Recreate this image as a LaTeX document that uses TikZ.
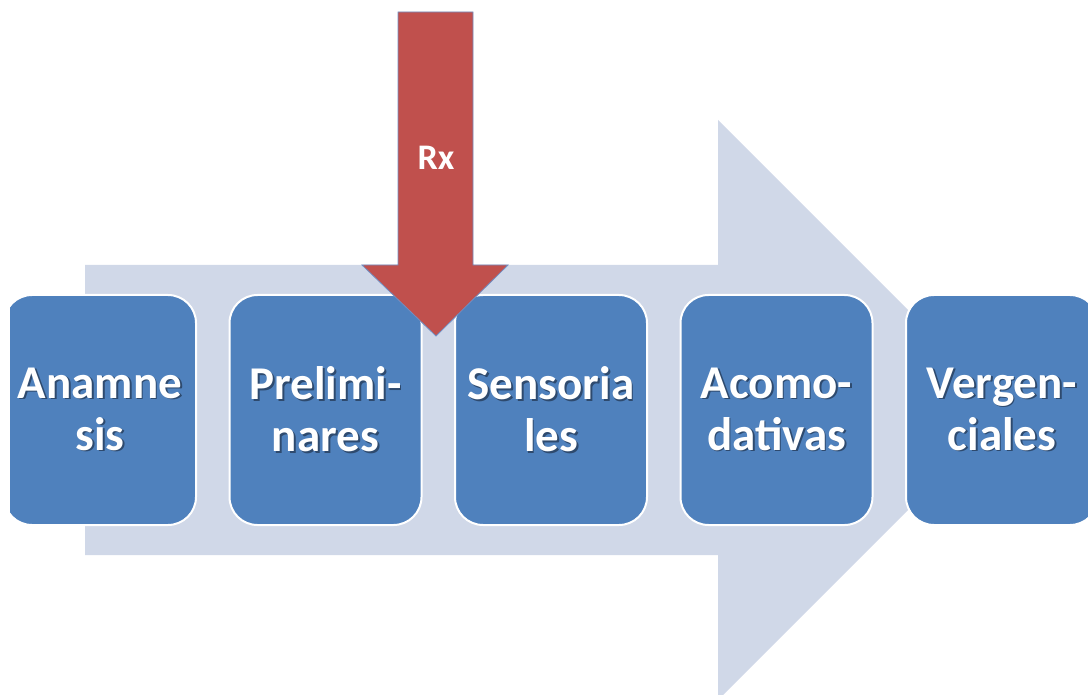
\documentclass[tikz,border=0pt]{standalone}
\usepackage{fontspec}
\setmainfont{Carlito}
\definecolor{boxblue}{HTML}{4F81BD}
\definecolor{bandcol}{HTML}{D0D8E8}
\definecolor{rxred}{HTML}{C0504D}
\definecolor{rxedge}{HTML}{6F8FC4}
\definecolor{shadowc}{HTML}{2E4A6E}
\newcommand{\sh}[1]{\leavevmode\rlap{\hspace{1.8pt}\raisebox{-1.8pt}{\color{shadowc}#1}}#1}
\tikzset{
  stepbox/.style={rectangle, rounded corners=28pt, fill=boxblue, draw=white,
    line width=2pt, minimum width=192pt, minimum height=230pt, inner sep=0pt,
    text=white, font=\bfseries\fontsize{47}{52}\selectfont, align=center},
  band/.style={fill=bandcol},
  rxarrow/.style={fill=rxred, draw=rxedge, line width=0.8pt},
  rxlabel/.style={text=white, font=\bfseries\fontsize{36}{40}\selectfont, inner sep=0pt}
}
\begin{document}
\begin{tikzpicture}[x=1pt,y=-1pt]
\useasboundingbox (0,0) rectangle (1088,695);
\begin{scope}
\clip (10,0) rectangle (1088,695);
% big background arrow
\fill[band] (85,265) -- (718,265) -- (718,120) -- (1008,410) -- (718,700)
  -- (718,555) -- (85,555) -- cycle;
% step boxes
\node[stepbox] (b1) at (100,410)   {\sh{Anamne}\\\sh{sis}};
\node[stepbox] (b2) at (325.5,410) {\sh{Prelimi-}\\\sh{nares}};
\node[stepbox] (b3) at (551,410)   {\sh{Sensoria}\\\sh{les}};
\node[stepbox] (b4) at (776.5,410) {\sh{Acomo-}\\\sh{dativas}};
\node[stepbox] (b5) at (1002,410)  {\sh{Vergen-}\\\sh{ciales}};
% red arrow
\draw[rxarrow] (398,12) -- (473,12) -- (473,265) -- (508,265) -- (436,336)
  -- (362,265) -- (398,265) -- cycle;
\node[rxlabel] (rx) at (436,158) {Rx};
\end{scope}
\end{tikzpicture}
\end{document}
